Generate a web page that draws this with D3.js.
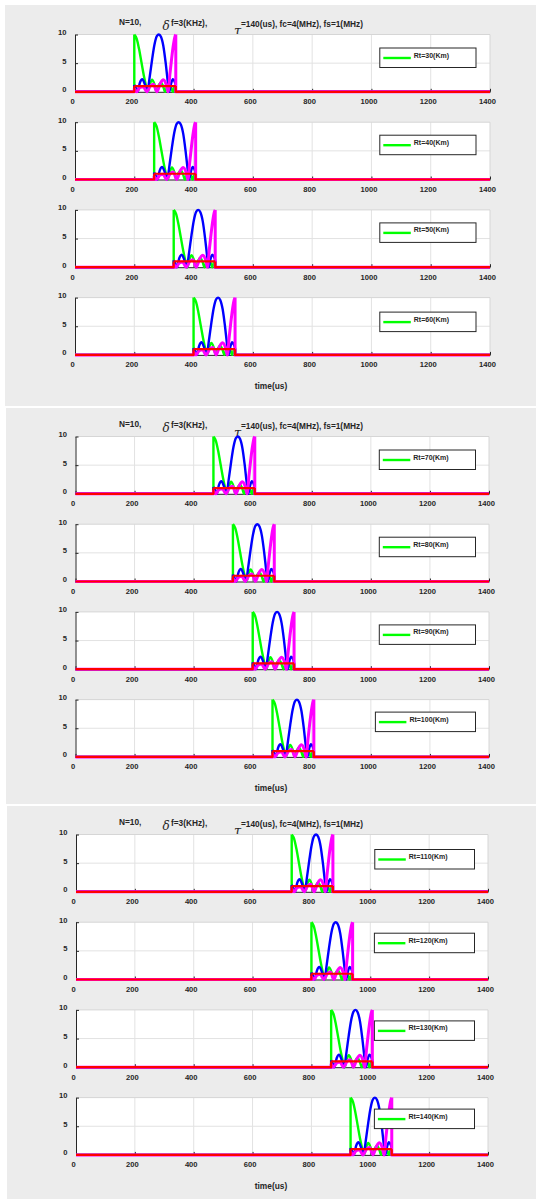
<!DOCTYPE html>
<html>
<head>
<meta charset="utf-8">
<script src="https://cdn.jsdelivr.net/npm/d3@7"></script>
<style>
  html, body { margin: 0; padding: 0; background: #ffffff; }
  svg { display: block; }
  text { font-family: "Liberation Sans", Arial, sans-serif; font-weight: bold; fill: #262626; }
</style>
</head>
<body>
<svg id="chart" width="536" height="1199"></svg>
<script>
// Target ranges (km), one subplot each, four per figure
const ranges = [30, 40, 50, 60, 70, 80, 90, 100, 110, 120, 130, 140];
// Echo start time (us) for each range
const startTimes = [200, 267, 333, 400, 467, 533, 600, 667, 733, 800, 867, 933];
// Pulse width (us)
const pulseWidth = 140;

// Filter output magnitudes inside the pulse window: [offset from echo start (us), value]
const greenShape = [[0, 10], [8, 9.3], [16, 7.5], [24, 5.2], [32, 2.9], [40, 1.0], [46, 0], [52, 1.2], [60, 2.1], [68, 1.3], [75, 0], [83, 1.2], [90, 1.6], [97, 1.0], [104, 0], [111, 1.0], [118, 1.3], [124, 0.8], [130, 0], [136, 0.9], [140, 1.1]];
const blueShape = [[0, 1.2], [5, 0.7], [11, 0], [19, 1.6], [27, 2.2], [35, 1.4], [44, 0], [52, 2.6], [60, 5.6], [68, 8.2], [76, 9.7], [83, 10], [90, 9.6], [98, 8.0], [106, 5.0], [113, 1.8], [118, 0], [124, 1.4], [130, 2.2], [136, 1.8], [140, 1.2]];
const magentaShape = [[0, 0.6], [8, 0], [18, 0.7], [30, 0.9], [42, 0], [54, 1.0], [65, 1.3], [76, 0], [88, 1.5], [98, 2.1], [108, 1.2], [114, 0], [120, 3.0], [126, 5.8], [132, 8.2], [137, 9.6], [140, 10]];
const redShape = [[0, 1], [140, 1]];

// Axis ticks
const xTicks = [0, 200, 400, 600, 800, 1000, 1200, 1400];
const yTicks = [0, 5, 10];

// Title pieces
const titleN = "N=10,";
const titleDf = "f=3(KHz),";
const titleTau = "=140(us), fc=4(MHz), fs=1(MHz)";
const xLabel = "time(us)";

// ---- layout ----
const svg = d3.select("#chart");
const figures = [
  { x: 5, y: 5, w: 531, h: 401, dy: 0, left: 75, right: 490, legRight: 476, legTop: [13.5, 13, 13, 14.5] },
  { x: 6, y: 408, w: 530, h: 396, dy: 402, left: 75.5, right: 489, legRight: 475.5, legTop: [13.5, 13, 13, 12.5] },
  { x: 7, y: 806, w: 529, h: 393, dy: 800, left: 76, right: 488, legRight: 474.5, legTop: [15, 11, 11, 11.5] }
];
const plotTop0 = 34.5, plotH = 57.3, rowStep = 87.7;

// Drawing order: later series sit on top
const series = [
  { shape: greenShape, color: "#00ff00", width: 2.4 },
  { shape: blueShape, color: "#0000ff", width: 2.4 },
  { shape: magentaShape, color: "#ff00ff", width: 3.0 },
  { shape: redShape, color: "#ff0000", width: 2.2 }
];

const serif = "'DejaVu Serif', 'Liberation Serif', serif";

figures.forEach((fig, fi) => {
  const g = svg.append("g");
  g.append("rect").attr("x", fig.x).attr("y", fig.y).attr("width", fig.w).attr("height", fig.h).attr("fill", "#ececec");

  // Title
  const ty = fig.dy;
  g.append("text").attr("x", 119).attr("y", ty + 24.5).attr("font-size", 8.3).text(titleN);
  g.append("text").attr("x", 162.5).attr("y", ty + 30).attr("font-size", 12)
    .style("font-family", serif).style("font-style", "italic").style("font-weight", "normal")
    .text("\u03b4");
  g.append("text").attr("x", 171).attr("y", ty + 25.5).attr("font-size", 8.3).text(titleDf);
  g.append("text").attr("x", 234).attr("y", ty + 34.5).attr("font-size", 13)
    .style("font-family", serif).style("font-style", "italic").style("font-weight", "normal")
    .text("\u03c4");
  g.append("text").attr("x", 241).attr("y", ty + 26.5).attr("font-size", 8.3).text(titleTau);

  for (let r = 0; r < 4; r++) {
    const idx = fi * 4 + r;
    const top = fig.dy + plotTop0 + r * rowStep;
    const bottom = top + plotH;
    const x = d3.scaleLinear().domain([0, 1400]).range([fig.left, fig.right]);
    const y = d3.scaleLinear().domain([0, 10]).range([bottom, top]);
    const sp = g.append("g");

    // Plot area and grid
    sp.append("rect").attr("x", fig.left).attr("y", top).attr("width", fig.right - fig.left).attr("height", plotH).attr("fill", "#ffffff");
    sp.append("g").selectAll("line").data(xTicks.slice(1, -1)).join("line")
      .attr("x1", d => x(d)).attr("x2", d => x(d)).attr("y1", top).attr("y2", bottom)
      .attr("stroke", "#e2e2e2").attr("stroke-width", 1);
    sp.append("g").selectAll("line").data(yTicks.slice(1, -1)).join("line")
      .attr("x1", fig.left).attr("x2", fig.right).attr("y1", d => y(d)).attr("y2", d => y(d))
      .attr("stroke", "#e2e2e2").attr("stroke-width", 1);
    // Light box edges (top/right)
    sp.append("path").attr("d", `M${fig.left},${top}H${fig.right}V${bottom}`)
      .attr("fill", "none").attr("stroke", "#d6d6d6").attr("stroke-width", 1);

    // Axes
    const xAxis = d3.axisBottom(x).tickValues(xTicks).tickFormat(d3.format("d"))
      .tickSizeInner(-3).tickSizeOuter(0).tickPadding(8);
    const xa = sp.append("g").attr("transform", `translate(0,${bottom})`).call(xAxis);
    xa.select(".domain").attr("stroke", "#262626");
    xa.selectAll(".tick line").attr("stroke", "#262626");
    xa.selectAll(".tick text").attr("font-size", 7.6).attr("font-family", "Liberation Sans, Arial, sans-serif")
      .attr("font-weight", "bold").attr("fill", "#262626").attr("dx", -3).attr("dy", "0.6em");

    const yAxis = d3.axisLeft(y).tickValues(yTicks).tickSizeInner(-3).tickSizeOuter(0).tickPadding(8.5);
    const ya = sp.append("g").attr("transform", `translate(${fig.left},0)`).call(yAxis);
    ya.select(".domain").attr("stroke", "#262626");
    ya.selectAll(".tick line").attr("stroke", "#262626");
    ya.selectAll(".tick text").attr("font-size", 7.6).attr("font-family", "Liberation Sans, Arial, sans-serif")
      .attr("font-weight", "bold").attr("fill", "#262626").attr("dy", "0.0em");

    // Curves: zero baseline, jump at echo start, shaped window, drop at window end
    const t0 = startTimes[idx];
    const lin = d3.line().x(d => x(d[0])).y(d => y(d[1]));
    const smooth = d3.line().x(d => x(d[0])).y(d => y(d[1])).curve(d3.curveMonotoneX);
    series.forEach(s => {
      const pts = s.shape.map(p => [t0 + p[0], p[1]]);
      const first = pts[0], last = pts[pts.length - 1];
      const d = lin([[0, 0], [t0, 0], first]) + smooth(pts) +
        lin([last, [t0 + pulseWidth, 0], [1400, 0]]);
      sp.append("path").attr("d", d).attr("fill", "none").attr("stroke", s.color)
        .attr("stroke-width", s.width).attr("stroke-linejoin", "round").attr("stroke-linecap", "butt");
    });

    // Legend
    const label = `Rt=${ranges[idx]}(Km)`;
    const lg = sp.append("g");
    const txt = lg.append("text").attr("font-size", 7).attr("dominant-baseline", "central").text(label);
    const tw = txt.node().getComputedTextLength();
    const boxW = 34 + tw + 27;
    const bx = fig.legRight - boxW, by = top + fig.legTop[r];
    lg.insert("rect", "text").attr("x", bx).attr("y", by).attr("width", boxW).attr("height", 19.5)
      .attr("fill", "#ffffff").attr("stroke", "#262626").attr("stroke-width", 1);
    lg.append("line").attr("x1", bx + 3.5).attr("x2", bx + 31).attr("y1", by + 10).attr("y2", by + 10)
      .attr("stroke", "#00ff00").attr("stroke-width", 2.4);
    txt.attr("x", bx + 34).attr("y", by + 7);
  }

  // x-axis label under the last subplot
  g.append("text").attr("x", 271).attr("y", fig.dy + 386).attr("font-size", 8.4)
    .attr("text-anchor", "middle").attr("dominant-baseline", "central").text(xLabel);
});
</script>
</body>
</html>
